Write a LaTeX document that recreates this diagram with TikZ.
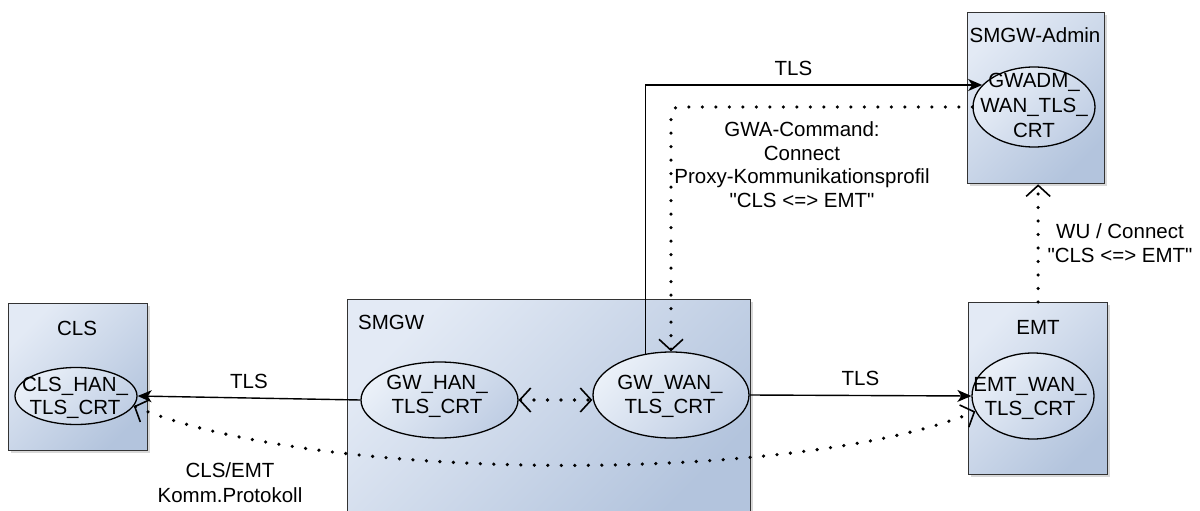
\documentclass[tikz,border=0pt]{standalone}
\usepackage{fontspec}
\setmainfont{Liberation Sans}[Ligatures=TeXOff]
\usetikzlibrary{arrows.meta,shadows,calc,shapes.geometric}
\definecolor{boxA}{HTML}{E3EAF5}
\definecolor{boxB}{HTML}{B3C4DD}
\definecolor{ellA}{HTML}{EAF0F8}
\definecolor{ellB}{HTML}{C0CEE4}
\tikzset{
  ob/.tip={Straight Barb[length=11pt,width=24pt,line width=1.6pt]},
  fb/.tip={Stealth[length=14pt,width=12pt,inset=4pt]},
}
\begin{document}
\begin{tikzpicture}[x=1pt,y=-1pt,
  every node/.style={font=\fontsize{20.5}{23.5}\selectfont},
  box/.style={draw=black!80, line width=1.3pt, rectangle, anchor=north west, inner sep=0pt,
    top color=boxA, bottom color=boxB, shading angle=45,
    drop shadow={shadow xshift=2.5pt,shadow yshift=-2.5pt,opacity=0.3}},
  ell/.style={draw=black, line width=1.3pt, ellipse, inner sep=0pt,
    top color=ellA, bottom color=ellB, shading angle=45},
  txt/.style={align=center, inner sep=0pt},
  solidarrow/.style={line width=1.4pt, -fb},
  dots/.style={line width=3.6pt, line cap=round, dash pattern=on 0pt off 13.5pt},
]
\useasboundingbox (0,0) rectangle (1200,511);
\fill[white] (0,0) rectangle (1200,511);

% boxes
\node[box, minimum width=139pt, minimum height=147pt] (CLS) at (8,303) {};
\node[box, minimum width=403pt, minimum height=218pt] (SMGW) at (347,299) {};
\node[box, minimum width=139pt, minimum height=172pt] (EMT) at (968,302) {};
\node[box, minimum width=137pt, minimum height=171pt] (ADMIN) at (967,12) {};

\node[txt] (CLSt) at (77,328) {CLS};
\node[txt, anchor=west] (SMGWt) at (358,322) {SMGW};
\node[txt] (EMTt) at (1038,327) {EMT};
\node[txt] (ADMINt) at (1035,35) {SMGW-Admin};

% ellipses
\node[ell, minimum width=122pt, minimum height=57pt] (CLSHAN) at (76,396) {};
\node[ell, minimum width=157pt, minimum height=76pt] (GWHAN) at (439.5,400) {};
\node[ell, minimum width=156pt, minimum height=86pt] (GWWAN) at (671,395) {};
\node[ell, minimum width=122pt, minimum height=86pt] (EMTWAN) at (1033,396) {};
\node[ell, minimum width=122pt, minimum height=80pt] (GWADM) at (1034,107) {};

\node[txt] (CLSHANt) at (75,398) {CLS\_HAN\_\\TLS\_CRT};
\node[txt] (GWHANt) at (437,396.5) {GW\_HAN\_\\TLS\_CRT};
\node[txt] (GWWANt) at (670,396.5) {GW\_WAN\_\\TLS\_CRT};
\node[txt] (EMTWANt) at (1030,398.5) {EMT\_WAN\_\\TLS\_CRT};
\node[txt, font=\fontsize{20.5}{25}\selectfont] (GWADMt) at (1034,105) {GWADM\_\\WAN\_TLS\_\\CRT};

% solid TLS connectors
\draw[solidarrow] (GWHAN.west) -- (CLSHAN.east) node[midway, yshift=17pt] {TLS};
\draw[solidarrow] (GWWAN.east) -- (EMTWAN.west) node[midway, yshift=17pt] {TLS};
\draw[solidarrow] (GWWAN.122) |- (GWADM.157) node[pos=0.72, yshift=17pt] {TLS};

% dotted connectors
\draw[dots, -ob, rounded corners=8pt] (GWADM.west) -| (GWWAN.north);
\draw[dots, -ob] (EMT.north) -- (EMT.north |- ADMIN.south);
\draw[dots, ob-ob] (GWHAN.east) -- (GWHAN.east -| GWWAN.west);
\draw[dots, ob-ob] (CLSHAN.350) .. controls (320,484) and (800,484) .. (EMTWAN.195);

% labels
\node[txt] (gwalabel) at (802,164.5) {GWA-Command:\\Connect\\Proxy-Kommunikationsprofil\\"CLS <=> EMT"};
\node[txt] (wulabel) at (1120,243) {WU / Connect\\"CLS <=> EMT"};
\node[txt, font=\fontsize{20.5}{25}\selectfont] (kommlabel) at (230,482.5) {CLS/EMT\\Komm.Protokoll};
\end{tikzpicture}
\end{document}
